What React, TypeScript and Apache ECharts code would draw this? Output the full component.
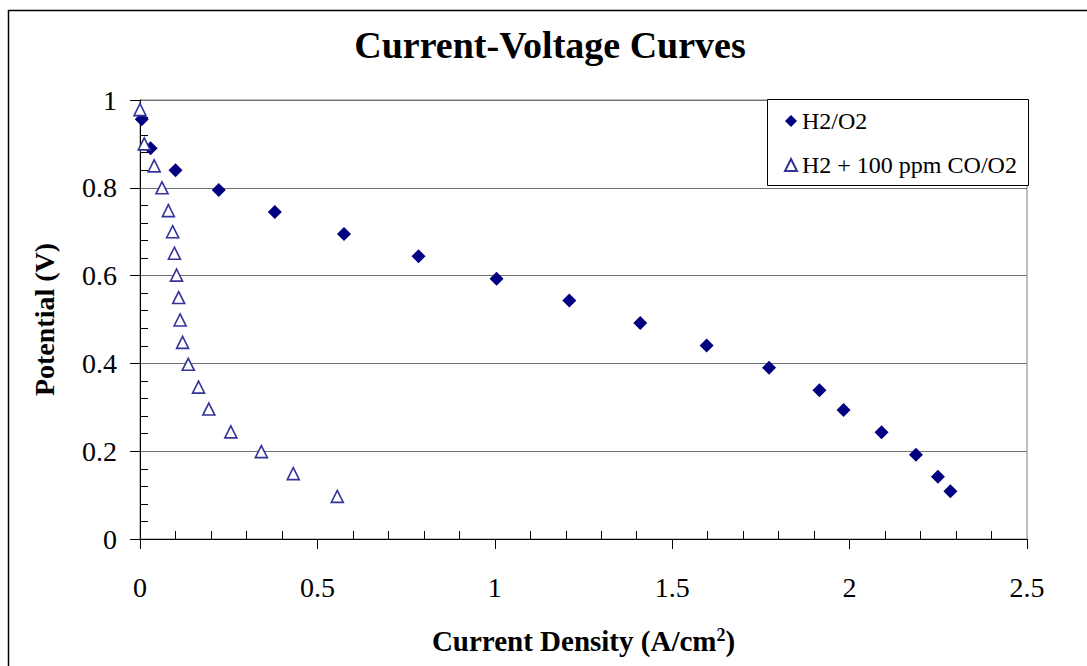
import React, { useEffect, useRef } from "react";
import * as echarts from "echarts";

// H2/O2 polarization data (current density in A/cm², potential in V)
const h2Current = [0.005, 0.03, 0.1, 0.222, 0.38, 0.575, 0.785, 1.005, 1.21, 1.41, 1.597, 1.773, 1.915, 1.983, 2.09, 2.187, 2.249, 2.284];
const h2Potential = [0.956, 0.89, 0.84, 0.795, 0.745, 0.695, 0.644, 0.593, 0.543, 0.492, 0.441, 0.39, 0.339, 0.294, 0.243, 0.192, 0.142, 0.109];

// H2 + 100 ppm CO / O2 polarization data
const coCurrent = [0.0, 0.012, 0.04, 0.062, 0.08, 0.092, 0.097, 0.103, 0.109, 0.113, 0.12, 0.136, 0.165, 0.194, 0.256, 0.342, 0.432, 0.556];
const coPotential = [0.978, 0.9, 0.85, 0.8, 0.748, 0.7, 0.651, 0.601, 0.55, 0.499, 0.448, 0.398, 0.346, 0.296, 0.244, 0.199, 0.149, 0.097];

const seriesNames = ["H2/O2", "H2 + 100 ppm CO/O2"];
const xRange = { min: 0, max: 2.5, interval: 0.5 };
const yRange = { min: 0, max: 1, interval: 0.2 };

const SERIF = "'Liberation Serif', 'Times New Roman', serif";

function pairs(xs: number[], ys: number[]) {
  return xs.map((x, i) => [x, ys[i]]);
}

export default function App() {
  const ref = useRef<HTMLDivElement>(null);

  useEffect(() => {
    if (!ref.current) return;
    const chart = echarts.init(ref.current, undefined, { renderer: "svg" });

    const labelStyle = { fontFamily: SERIF, fontSize: 28, color: "#000" };
    const nameStyle = { fontFamily: SERIF, fontSize: 28, fontWeight: "bold" as const, color: "#000" };

    // Invisible twin axes that carry only the inward-pointing minor ticks
    const minorOnly = (range: typeof xRange, position: string) => ({
      type: "value" as const,
      gridIndex: 0,
      position,
      ...range,
      axisLine: { show: false },
      axisLabel: { show: false },
      splitLine: { show: false },
      axisTick: { show: false, inside: true },
      minorTick: { show: true, splitNumber: 5, length: 8, lineStyle: { color: "#000", width: 1 } },
      minorSplitLine: { show: false },
    });

    chart.setOption({
      animation: false,
      backgroundColor: "#fff",
      title: {
        text: "Current-Voltage Curves",
        left: 550,
        textAlign: "center",
        top: 26,
        padding: 0,
        textStyle: { fontFamily: SERIF, fontSize: 38, fontWeight: "bold", color: "#000" },
      },
      grid: {
        left: 140,
        top: 100,
        right: 60,
        bottom: 127,
        show: true,
        backgroundColor: "#fff",
        borderColor: "#808080",
        borderWidth: 1,
      },
      legend: {
        orient: "vertical",
        left: 784,
        top: 109,
        padding: 0,
        itemWidth: 12,
        itemHeight: 12,
        itemGap: 20,
        z: 10,
        data: seriesNames,
        textStyle: { fontFamily: SERIF, fontSize: 24, lineHeight: 24, color: "#000" },
      },
      graphic: [
        {
          type: "rect",
          silent: true,
          z: 0,
          shape: { x: 8.5, y: 10.5, width: 1200, height: 800 },
          style: { fill: "none", stroke: "#000", lineWidth: 1.5 },
        },
        {
          type: "rect",
          silent: true,
          z: 5,
          shape: { x: 767.5, y: 99.5, width: 261, height: 86 },
          style: { fill: "#fff", stroke: "#000", lineWidth: 1 },
        },
      ],
      xAxis: [
        {
          type: "value",
          position: "bottom",
          ...xRange,
          axisLine: { show: true, lineStyle: { color: "#000", width: 1 } },
          axisTick: { show: true, length: 10, lineStyle: { color: "#000" } },
          axisLabel: { ...labelStyle, margin: 34 },
          splitLine: { show: false },
          name: "Current Density (A/cm{sup|2})",
          nameLocation: "middle",
          nameGap: 87,
          nameTextStyle: {
            ...nameStyle,
            fontSize: 29,
            rich: {
              sup: { fontFamily: SERIF, fontSize: 18, fontWeight: "bold", color: "#000", verticalAlign: "top", padding: [0, 0, 12, 0] },
            },
          },
        },
        minorOnly(xRange, "bottom"),
      ],
      yAxis: [
        {
          type: "value",
          position: "left",
          ...yRange,
          axisLine: { show: true, lineStyle: { color: "#000", width: 1 } },
          axisTick: { show: true, length: 10, lineStyle: { color: "#000" } },
          axisLabel: { ...labelStyle, margin: 23 },
          splitLine: { show: true, lineStyle: { color: "#707070", width: 1.2 } },
          name: "Potential (V)",
          nameLocation: "middle",
          nameGap: 82,
          nameTextStyle: nameStyle,
        },
        minorOnly(yRange, "left"),
      ],
      series: [
        {
          name: seriesNames[0],
          type: "scatter",
          xAxisIndex: 0,
          yAxisIndex: 0,
          symbol: "diamond",
          symbolSize: 14,
          itemStyle: { color: "#000080", opacity: 1 },
          data: pairs(h2Current, h2Potential),
        },
        {
          name: seriesNames[1],
          type: "scatter",
          xAxisIndex: 0,
          yAxisIndex: 0,
          symbol: "triangle",
          symbolSize: 12,
          itemStyle: { color: "#fff", borderColor: "#333399", borderWidth: 1.6, opacity: 1 },
          data: pairs(coCurrent, coPotential),
        },
      ],
    });

    return () => chart.dispose();
  }, []);

  return (
    <div
      ref={ref}
      style={{ position: "fixed", left: 0, top: 0, width: 1087, height: 666, background: "#fff" }}
    />
  );
}
